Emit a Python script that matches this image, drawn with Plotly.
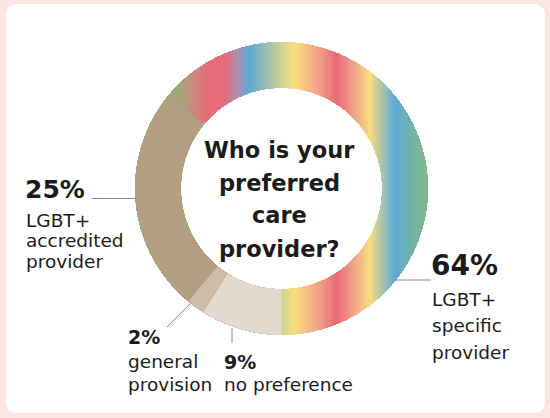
import numpy as np
import plotly.graph_objects as go

# ---------------- data ----------------
categories = ["LGBT+ specific provider", "no preference", "general provision", "LGBT+ accredited provider"]
values = [64, 9, 2, 25]
pct_labels = ["64%", "9%", "2%", "25%"]
label_lines = [["LGBT+", "specific", "provider"], ["no preference"], ["general", "provision"],
               ["LGBT+", "accredited", "provider"]]
title_lines = ["Who is your", "preferred", "care", "provider?"]

# ---------------- style / layout ----------------
W, H = 550, 418
CX, CY, R = 281.5, 188.5, 146.5
HOLE = 0.686
ROTATION = -(values[0] / sum(values) * 360 - 180)  # first slice ends at 6 o'clock
slice_colors = ["rgba(0,0,0,0)", "#e3d9cf", "#cdbca8", "#b29e80"]
TXT = "#1b1b1b"
LINE = "#8a8a8a"
FONT = "DejaVu Sans"

rainbow_stops = [(160, "#8fb06f"), (172, "#8bb574"), (192, "#c98b7f"), (210, "#e86a7a"),
                 (226, "#e66c7d"), (238, "#a890b0"), (249, "#5fa9d6"), (272, "#aec5a4"),
                 (294, "#f7df80"), (316, "#f4a888"), (337, "#e86a7a"), (356, "#f2aa87"),
                 (370, "#f6dd80"), (395, "#5fa9d6"), (411, "#70b3ad"), (432, "#87bc7c")]
ZMIN, ZMAX = rainbow_stops[0][0], rainbow_stops[-1][0]
colorscale = [[(p - ZMIN) / (ZMAX - ZMIN), c] for p, c in rainbow_stops]

# rainbow gradient behind the (transparent) first slice: heatmap masked to the ring
xs = np.arange(np.floor(CX - R) - 0.5, np.ceil(CX + R) + 1.5, 1.0)
ys = np.arange(np.floor(CY - R) - 0.5, np.ceil(CY + R) + 1.5, 1.0)
XX, YY = np.meshgrid(xs, ys)
rr = np.hypot(XX - CX, YY - CY)
inside = (rr <= R + 0.2) & (rr >= R * HOLE - 0.2)
Z = np.where(inside, np.clip(XX, ZMIN, ZMAX), np.nan)

fig = go.Figure()
fig.add_trace(go.Heatmap(x=xs, y=ys, z=Z, colorscale=colorscale, zmin=ZMIN, zmax=ZMAX,
                         showscale=False, hoverinfo="skip", zsmooth=False))
fig.add_trace(go.Pie(labels=categories, values=values, sort=False, direction="clockwise",
                     rotation=ROTATION, hole=HOLE, textinfo="none", showlegend=False,
                     marker=dict(colors=slice_colors, line=dict(width=0)),
                     domain=dict(x=[(CX - R) / W, (CX + R) / W],
                                 y=[1 - (CY + R) / H, 1 - (CY - R) / H])))

annotations = []


def txt(x, y, s, size, bold=False, anchor="left"):
    annotations.append(dict(x=x, y=y, xref="x", yref="y", text=f"<b>{s}</b>" if bold else s,
                            showarrow=False, xanchor=anchor, yanchor="middle", borderpad=0,
                            font=dict(family=FONT, size=size, color=TXT)))


# centre title
for s, yc in zip(title_lines, [149.9, 183.2, 215.2, 248.9]):
    txt(CX - 2, yc, s, 22.5, bold=True, anchor="center")

# 64% label
txt(430, 265.3, pct_labels[0], 28, bold=True)
for s, yc in zip(label_lines[0], [299, 325.4, 352]):
    txt(431, yc, s, 18.5)
# 9% label
txt(223, 361.6, pct_labels[1], 19, bold=True)
txt(223, 384, label_lines[1][0], 18.5)
# 2% label
txt(127, 336.6, pct_labels[2], 19, bold=True)
for s, yc in zip(label_lines[2], [361, 384]):
    txt(127, yc, s, 18.5)
# 25% label
txt(24, 189.4, pct_labels[3], 25, bold=True)
for s, yc in zip(label_lines[3], [220.6, 240.4, 261]):
    txt(25, yc, s, 18.5)

shapes = [
    dict(type="path", xref="x", yref="y", layer="below", line=dict(width=0), fillcolor="white",
         path="M 18,4 H 533 Q 545,4 545,16 V 401 Q 545,413 533,413 H 18 Q 6,413 6,401 V 16 Q 6,4 18,4 Z"),
    dict(type="line", xref="x", yref="y", x0=92, y0=198.5, x1=136, y1=198.5, line=dict(color=LINE, width=1)),
    dict(type="line", xref="x", yref="y", x0=167, y0=327, x1=190, y1=304, line=dict(color=LINE, width=1)),
    dict(type="line", xref="x", yref="y", x0=232, y0=328, x1=232, y1=343, line=dict(color=LINE, width=1)),
    dict(type="line", xref="x", yref="y", x0=396, y0=280, x1=431, y1=280, line=dict(color=LINE, width=1)),
]

fig.update_layout(
    width=W, height=H, margin=dict(l=0, r=0, t=0, b=0),
    paper_bgcolor="#fce6e1", plot_bgcolor="rgba(0,0,0,0)",
    xaxis=dict(range=[0, W], visible=False, fixedrange=True, domain=[0, 1]),
    yaxis=dict(range=[H, 0], visible=False, fixedrange=True, domain=[0, 1]),
    annotations=annotations, shapes=shapes, showlegend=False,
)

fig.write_html("out.html")
